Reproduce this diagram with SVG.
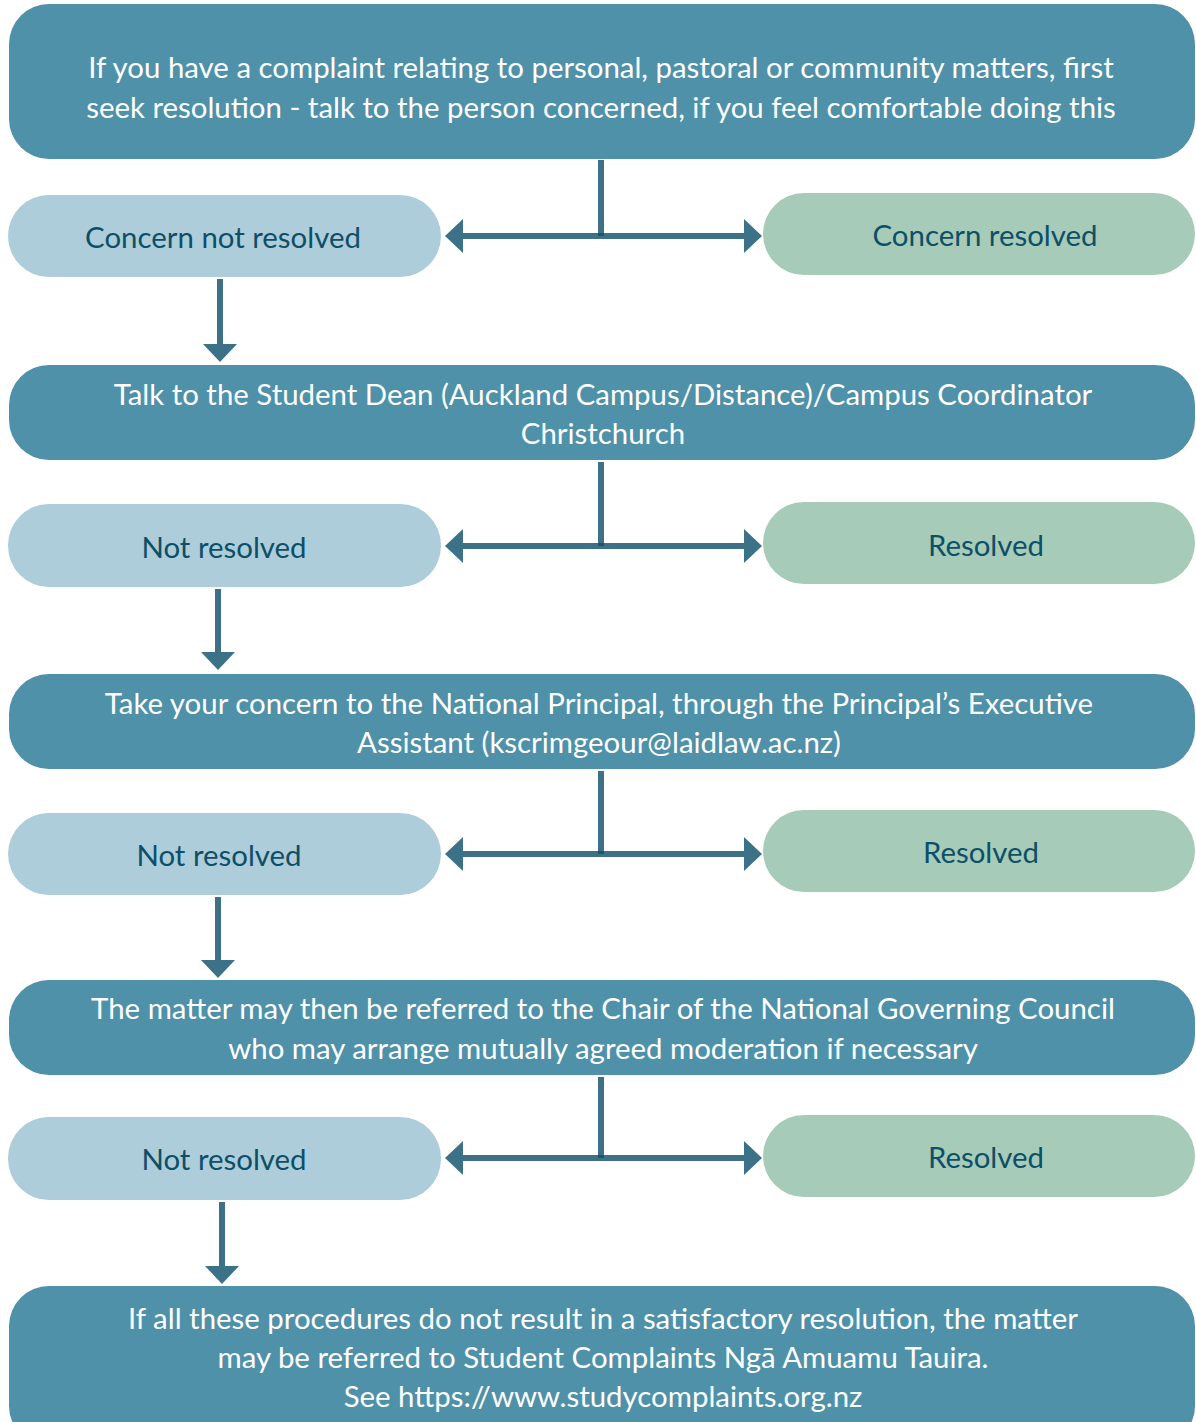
<svg xmlns="http://www.w3.org/2000/svg" width="1196" height="1422" viewBox="0 0 1196 1422">
<style>
.main{fill:#4E91A9}
.no{fill:#ADCDDA}
.yes{fill:#A6CBB9}
.mt{font-family:Lato,"Open Sans","Liberation Sans",sans-serif;font-size:29.4px;fill:#FFFFFF;text-anchor:middle}
.pt{font-family:Lato,"Open Sans","Liberation Sans",sans-serif;font-size:29.4px;fill:#0D4F66;text-anchor:middle}
.ln{stroke:#0F4E68;stroke-opacity:0.8;stroke-width:6;fill:none}
.ah{fill:#3C7287}
</style>
<rect width="1196" height="1422" fill="#FFFFFF"/>
<g id="connectors">
  <!-- row 1 -->
  <line class="ln" x1="601" y1="160" x2="601" y2="236"/>
  <line class="ln" x1="462" y1="236" x2="744" y2="236"/>
  <polygon class="ah" points="445,236 463,219 463,253"/>
  <polygon class="ah" points="762,236 744,219 744,253"/>
  <line class="ln" x1="220" y1="279" x2="220" y2="345"/>
  <polygon class="ah" points="203,344 237,344 220,362"/>
  <!-- row 2 -->
  <line class="ln" x1="601" y1="462" x2="601" y2="546"/>
  <line class="ln" x1="462" y1="546" x2="744" y2="546"/>
  <polygon class="ah" points="445,546 463,529 463,563"/>
  <polygon class="ah" points="762,546 744,529 744,563"/>
  <line class="ln" x1="218" y1="589" x2="218" y2="653"/>
  <polygon class="ah" points="201,652 235,652 218,670"/>
  <!-- row 3 -->
  <line class="ln" x1="601" y1="771" x2="601" y2="854"/>
  <line class="ln" x1="462" y1="854" x2="744" y2="854"/>
  <polygon class="ah" points="445,854 463,837 463,871"/>
  <polygon class="ah" points="762,854 744,837 744,871"/>
  <line class="ln" x1="218" y1="897" x2="218" y2="961"/>
  <polygon class="ah" points="201,960 235,960 218,978"/>
  <!-- row 4 -->
  <line class="ln" x1="601" y1="1077" x2="601" y2="1158"/>
  <line class="ln" x1="462" y1="1158" x2="744" y2="1158"/>
  <polygon class="ah" points="445,1158 463,1141 463,1175"/>
  <polygon class="ah" points="762,1158 744,1141 744,1175"/>
  <line class="ln" x1="222" y1="1202" x2="222" y2="1267"/>
  <polygon class="ah" points="205,1266 239,1266 222,1284"/>
</g>
<g id="n1">
  <rect class="main" x="9" y="4" width="1186" height="155" rx="40"/>
  <text class="mt" x="601" y="78">If you have a complaint relating to personal, pastoral or community matters, first</text>
  <text class="mt" x="601" y="118">seek resolution - talk to the person concerned, if you feel comfortable doing this</text>
</g>
<g id="n1no">
  <rect class="no" x="8" y="195" width="433" height="82" rx="41"/>
  <text class="pt" x="223" y="248">Concern not resolved</text>
</g>
<g id="n1yes">
  <rect class="yes" x="763" y="193" width="432" height="82" rx="41"/>
  <text class="pt" x="985" y="246">Concern resolved</text>
</g>
<g id="n2">
  <rect class="main" x="9" y="365" width="1186" height="95" rx="40"/>
  <text class="mt" x="603" y="405">Talk to the Student Dean (Auckland Campus/Distance)/Campus Coordinator</text>
  <text class="mt" x="603" y="444">Christchurch</text>
</g>
<g id="n2no">
  <rect class="no" x="8" y="504" width="433" height="83" rx="41"/>
  <text class="pt" x="224" y="558">Not resolved</text>
</g>
<g id="n2yes">
  <rect class="yes" x="763" y="502" width="432" height="82" rx="41"/>
  <text class="pt" x="986" y="556">Resolved</text>
</g>
<g id="n3">
  <rect class="main" x="9" y="674" width="1186" height="95" rx="40"/>
  <text class="mt" x="599" y="714">Take your concern to the National Principal, through the Principal’s Executive</text>
  <text class="mt" x="599" y="753">Assistant (kscrimgeour@laidlaw.ac.nz)</text>
</g>
<g id="n3no">
  <rect class="no" x="8" y="813" width="433" height="82" rx="41"/>
  <text class="pt" x="219" y="866">Not resolved</text>
</g>
<g id="n3yes">
  <rect class="yes" x="763" y="810" width="432" height="82" rx="41"/>
  <text class="pt" x="981" y="863">Resolved</text>
</g>
<g id="n4">
  <rect class="main" x="9" y="980" width="1186" height="95" rx="40"/>
  <text class="mt" x="603" y="1019">The matter may then be referred to the Chair of the National Governing Council</text>
  <text class="mt" x="603" y="1059">who may arrange mutually agreed moderation if necessary</text>
</g>
<g id="n4no">
  <rect class="no" x="8" y="1117" width="433" height="83" rx="41"/>
  <text class="pt" x="224" y="1170">Not resolved</text>
</g>
<g id="n4yes">
  <rect class="yes" x="763" y="1115" width="432" height="82" rx="41"/>
  <text class="pt" x="986" y="1168">Resolved</text>
</g>
<g id="n5">
  <rect class="main" x="9" y="1286" width="1186" height="160" rx="40"/>
  <text class="mt" x="603" y="1329">If all these procedures do not result in a satisfactory resolution, the matter</text>
  <text class="mt" x="603" y="1368">may be referred to Student Complaints Ngā Amuamu Tauira.</text>
  <text class="mt" x="603" y="1407">See https://www.studycomplaints.org.nz</text>
</g>
</svg>
